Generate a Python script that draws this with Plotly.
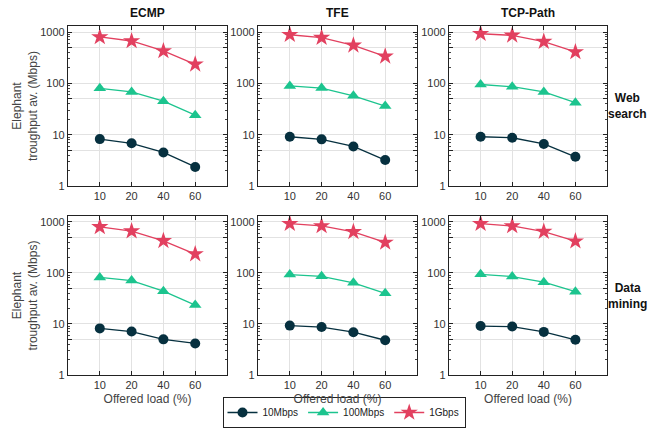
import plotly.graph_objects as go

loads = ["10", "20", "40", "60"]
schemes = ["ECMP", "TFE", "TCP-Path"]
workloads = ["Web<br>search", "Data<br>mining"]
series_names = ["10Mbps", "100Mbps", "1Gbps"]

web_ecmp_10m = [8.2, 6.8, 4.5, 2.35]
web_ecmp_100m = [80, 68, 45, 24]
web_ecmp_1g = [800, 668, 427, 235]
web_tfe_10m = [9.1, 8.1, 5.9, 3.2]
web_tfe_100m = [89, 81, 57, 36]
web_tfe_1g = [885, 776, 550, 336]
web_tcp_10m = [9.1, 8.7, 6.6, 3.7]
web_tcp_100m = [95, 86, 68, 42]
web_tcp_1g = [925, 860, 648, 408]

dm_ecmp_10m = [8.2, 7.1, 5.0, 4.15]
dm_ecmp_100m = [82, 71, 44, 23.5]
dm_ecmp_1g = [800, 660, 427, 235]
dm_tfe_10m = [9.3, 8.7, 6.9, 4.8]
dm_tfe_100m = [93, 86, 64, 40]
dm_tfe_1g = [925, 836, 640, 396]
dm_tcp_10m = [9.1, 8.9, 7.0, 4.9]
dm_tcp_100m = [94, 85, 66, 43]
dm_tcp_1g = [925, 836, 648, 420]

data = [
    [[web_ecmp_10m, web_ecmp_100m, web_ecmp_1g],
     [web_tfe_10m, web_tfe_100m, web_tfe_1g],
     [web_tcp_10m, web_tcp_100m, web_tcp_1g]],
    [[dm_ecmp_10m, dm_ecmp_100m, dm_ecmp_1g],
     [dm_tfe_10m, dm_tfe_100m, dm_tfe_1g],
     [dm_tcp_10m, dm_tcp_100m, dm_tcp_1g]],
]

colors = ["#06303f", "#1cc48e", "#e2405f"]
symbols = ["circle", "triangle-up", "star"]
msizes = [10, 11, 13]

W, H = 656, 430
ml, mr, mt, mb = 68, 49, 26, 55
pw, ph = W - ml - mr, H - mt - mb
col_px = [(68, 227), (258, 417), (449, 607)]
row_px = [(26, 186), (216, 375)]
xdom = [[(a - ml) / pw, (b - ml) / pw] for a, b in col_px]
ydom = [[1 - (b - mt) / ph, 1 - (a - mt) / ph] for a, b in row_px]

fig = go.Figure()
font_fam = "Liberation Sans, Arial, sans-serif"

for r in range(2):
    for c in range(3):
        idx = r * 3 + c + 1
        xa = "x" if idx == 1 else f"x{idx}"
        ya = "y" if idx == 1 else f"y{idx}"
        for s in range(3):
            fig.add_trace(go.Scatter(
                x=loads, y=data[r][c][s], xaxis=xa, yaxis=ya,
                mode="lines+markers", name=series_names[s],
                legendgroup=series_names[s], showlegend=(idx == 1),
                line=dict(color=colors[s], width=1.3),
                marker=dict(symbol=symbols[s], size=msizes[s], color=colors[s],
                            line=dict(width=0)),
            ))
        xkey = "xaxis" if idx == 1 else f"xaxis{idx}"
        ykey = "yaxis" if idx == 1 else f"yaxis{idx}"
        fig.layout[xkey] = dict(
            domain=xdom[c], anchor=ya, type="category", range=[-1, 4],
            showline=True, linecolor="#222", linewidth=1.2, mirror="allticks",
            ticks="inside", ticklen=4, tickcolor="#222",
            showgrid=True, gridcolor="#e2e2e2", gridwidth=1,
            tickfont=dict(size=11, color="#333", family=font_fam),
            title=dict(text="Offered load (%)" if r == 1 else "",
                       font=dict(size=12, color="#444", family=font_fam), standoff=4),
            zeroline=False, fixedrange=True, automargin=False,
        )
        fig.layout[ykey] = dict(
            domain=ydom[r], anchor=xa, type="log", range=[0, 3.117],
            tickvals=[1, 5, 10, 50, 100, 500, 1000],
            ticktext=["1", "", "10", "", "100", "", "1000"],
            showline=True, linecolor="#222", linewidth=1.2, mirror="allticks",
            ticks="inside", ticklen=4, tickcolor="#222",
            minor=dict(ticks="inside", ticklen=2, tickcolor="#444", dtick="D1", showgrid=False),
            showgrid=True, gridcolor="#e2e2e2", gridwidth=1,
            tickfont=dict(size=11, color="#333", family=font_fam),
            title=dict(text="Elephant<br>troughput av. (Mbps)" if c == 0 else "",
                       font=dict(size=12, color="#444", family=font_fam), standoff=0),
            zeroline=False, fixedrange=True, automargin=False,
        )

annotations = []
for c in range(3):
    annotations.append(dict(
        text=f"<b>{schemes[c]}</b>", x=(xdom[c][0] + xdom[c][1]) / 2, y=1,
        xref="paper", yref="paper", xanchor="center", yanchor="bottom", yshift=4,
        showarrow=False, font=dict(size=12, color="#111", family=font_fam)))
for r in range(2):
    annotations.append(dict(
        text=f"<b>{workloads[r]}</b>", x=1, y=(ydom[r][0] + ydom[r][1]) / 2,
        xref="paper", yref="paper", xanchor="center", yanchor="middle", xshift=20,
        showarrow=False, font=dict(size=12, color="#111", family=font_fam)))

fig.update_layout(
    width=W, height=H, margin=dict(l=ml, r=mr, t=mt, b=mb, autoexpand=False),
    plot_bgcolor="white", paper_bgcolor="white",
    annotations=annotations,
    legend=dict(orientation="h", x=(344 - ml) / pw, y=-(428 - 375) / ph,
                xanchor="center", yanchor="bottom", bordercolor="#222", borderwidth=1,
                font=dict(size=10, color="#222", family=font_fam),
                itemwidth=30, tracegroupgap=0, bgcolor="white"),
)

fig.write_html("out.html", config={"displayModeBar": False},
               post_script="document.body.style.margin='0';document.body.style.padding='0';")
